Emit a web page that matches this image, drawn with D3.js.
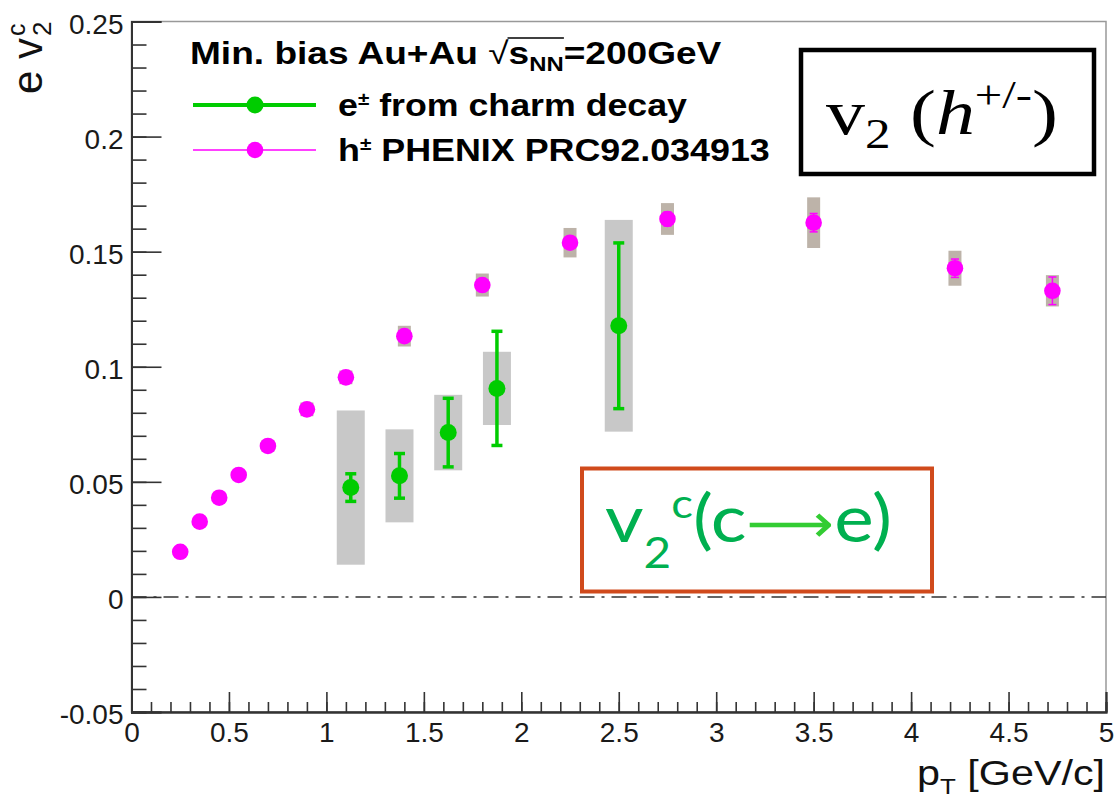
<!DOCTYPE html>
<html>
<head>
<meta charset="utf-8">
<script src="https://cdn.jsdelivr.net/npm/d3@7"></script>
<style>
  body { margin: 0; background: #fff; }
  svg { display: block; }
</style>
</head>
<body>
<svg id="chart" width="1114" height="804"></svg>
<script>
// Charged hadron v2 (PHENIX PRC92.034913)
const hadronPt   = [0.25, 0.35, 0.45, 0.55, 0.7, 0.9, 1.1, 1.4, 1.8, 2.25, 2.75, 3.5, 4.225, 4.725];
const hadronV2   = [0.0196, 0.0327, 0.0431, 0.053, 0.0656, 0.0815, 0.0954, 0.1133, 0.1355, 0.1539, 0.1642, 0.1626, 0.1428, 0.1330];
const hadronStat = [0.0008, 0.0008, 0.0008, 0.0008, 0.001, 0.001, 0.0012, 0.0015, 0.002, 0.0025, 0.003, 0.004, 0.004, 0.006];
const hadronSys  = [0.002, 0.002, 0.002, 0.002, 0.0025, 0.003, 0.003, 0.0045, 0.005, 0.0064, 0.0069, 0.011, 0.0076, 0.0068];

// Electrons from charm decay
const charmPt   = [1.125, 1.375, 1.625, 1.875, 2.5];
const charmV2   = [0.0475, 0.0526, 0.0714, 0.0906, 0.1178];
const charmStat = [0.006, 0.0097, 0.0149, 0.0248, 0.036];
const charmSys  = [0.0335, 0.0202, 0.0164, 0.0159, 0.046];

// Axis ticks
const yMajorTicks = [-0.05, 0, 0.05, 0.1, 0.15, 0.2, 0.25];
const xMajorTicks = [0, 0.5, 1, 1.5, 2, 2.5, 3, 3.5, 4, 4.5, 5];
const yTickLabels = ["-0.05", "0", "0.05", "0.1", "0.15", "0.2", "0.25"];
const xTickLabels = ["0", "0.5", "1", "1.5", "2", "2.5", "3", "3.5", "4", "4.5", "5"];

const GREEN = "#00cc00", MAGENTA = "#ff00ff";
const SANS = "'Liberation Sans', Arial, Helvetica, sans-serif";

const svg = d3.select("#chart");
const x = d3.scaleLinear().domain([0, 5]).range([131.5, 1106]);
const y = d3.scaleLinear().domain([-0.05, 0.25]).range([712, 21.5]);

// Text helper: builds a text at (px,py) and optionally stretches it horizontally to a given width
function label(parent, px, py, anchor, width, build) {
  const g = parent.append("g").attr("transform", `translate(${px},${py})`);
  const t = g.append("text").attr("text-anchor", anchor).attr("font-family", SANS);
  build(t, g);
  if (width) {
    const w = t.node().getBBox().width;
    g.attr("transform", `translate(${px},${py}) scale(${width / w},1)`);
  }
  return { g, t };
}

// Frame
svg.append("rect")
  .attr("x", x(0)).attr("y", y(0.25))
  .attr("width", x(5) - x(0)).attr("height", y(-0.05) - y(0.25))
  .attr("fill", "none").attr("stroke", "#999").attr("stroke-width", 1.5);

// Minor ticks
const yMinor = d3.range(-0.05, 0.2501, 0.01).map(v => +v.toFixed(2));
const xMinor = d3.range(0, 5.001, 0.1).map(v => +v.toFixed(1));

const yAxisMinor = svg.append("g").attr("transform", `translate(${x(0)},0)`)
  .call(d3.axisLeft(y).tickValues(yMinor).tickSize(-15).tickFormat(""));
const xAxisMinor = svg.append("g").attr("transform", `translate(0,${y(-0.05)})`)
  .call(d3.axisBottom(x).tickValues(xMinor).tickSize(-10).tickFormat(""));

// Major ticks with labels
const yAxis = svg.append("g").attr("transform", `translate(${x(0)},0)`)
  .call(d3.axisLeft(y).tickValues(yMajorTicks).tickSize(-30).tickPadding(8)
    .tickFormat((d, i) => yTickLabels[i]));
const xAxis = svg.append("g").attr("transform", `translate(0,${y(-0.05)})`)
  .call(d3.axisBottom(x).tickValues(xMajorTicks).tickSize(-20).tickPadding(10)
    .tickFormat((d, i) => xTickLabels[i]));

[yAxisMinor, xAxisMinor, yAxis, xAxis].forEach(a => {
  a.select(".domain").attr("stroke", "#333").attr("stroke-width", 2);
  a.selectAll(".tick line").attr("stroke", "#333").attr("stroke-width", 1.6);
  a.selectAll("text").attr("font-family", SANS).attr("font-size", 28).attr("fill", "#1a1a1a");
});
yAxis.selectAll(".tick text").attr("transform", "translate(0,3)");

// Zero line
svg.append("line")
  .attr("x1", x(0)).attr("x2", x(5)).attr("y1", y(0)).attr("y2", y(0))
  .attr("stroke", "#333").attr("stroke-width", 1.5)
  .attr("stroke-dasharray", "15,7,3,7");

// Axis titles
label(svg, 1105, 785, "end", 188, t => {
  t.attr("font-size", 35).attr("fill", "#111");
  t.append("tspan").text("p");
  t.append("tspan").attr("font-size", 22).attr("dy", 9).text("T");
  t.append("tspan").attr("dy", -9).text(" [GeV/c]");
});

const yt = svg.append("g").attr("transform", "translate(42,94) rotate(-90)")
  .attr("font-family", SANS).attr("fill", "#111");
yt.append("text").attr("x", 0).attr("y", 0).attr("font-size", 42).text("e v");
yt.append("text").attr("x", 58).attr("y", 9).attr("font-size", 26).text("2");
yt.append("text").attr("x", 58).attr("y", -17).attr("font-size", 25).text("c");

// Systematic boxes
const plot = svg.append("g");
plot.selectAll("rect.hsys").data(hadronPt).join("rect")
  .attr("class", "hsys")
  .attr("x", d => x(d) - 6.5).attr("width", 13)
  .attr("y", (d, i) => y(hadronV2[i] + hadronSys[i]))
  .attr("height", (d, i) => y(hadronV2[i] - hadronSys[i]) - y(hadronV2[i] + hadronSys[i]))
  .attr("fill", "#bdb3a9");

plot.selectAll("rect.csys").data(charmPt).join("rect")
  .attr("class", "csys")
  .attr("x", d => x(d) - 14).attr("width", 28)
  .attr("y", (d, i) => y(charmV2[i] + charmSys[i]))
  .attr("height", (d, i) => y(charmV2[i] - charmSys[i]) - y(charmV2[i] + charmSys[i]))
  .attr("fill", "#c8c8c8");

// Statistical error bars
function errorBars(pts, vals, errs, color, lw, capW) {
  const g = plot.append("g").attr("stroke", color).attr("stroke-width", lw);
  pts.forEach((p, i) => {
    const cx = x(p), y1 = y(vals[i] + errs[i]), y2 = y(vals[i] - errs[i]);
    g.append("line").attr("x1", cx).attr("x2", cx).attr("y1", y1).attr("y2", y2);
    g.append("line").attr("x1", cx - capW / 2).attr("x2", cx + capW / 2).attr("y1", y1).attr("y2", y1);
    g.append("line").attr("x1", cx - capW / 2).attr("x2", cx + capW / 2).attr("y1", y2).attr("y2", y2);
  });
}
errorBars(hadronPt, hadronV2, hadronStat, MAGENTA, 1.5, 8);
errorBars(charmPt, charmV2, charmStat, GREEN, 3.5, 11);

// Markers
plot.selectAll("circle.h").data(hadronPt).join("circle")
  .attr("class", "h")
  .attr("cx", d => x(d)).attr("cy", (d, i) => y(hadronV2[i]))
  .attr("r", 8.3).attr("fill", MAGENTA);
plot.selectAll("circle.c").data(charmPt).join("circle")
  .attr("class", "c")
  .attr("cx", d => x(d)).attr("cy", (d, i) => y(charmV2[i]))
  .attr("r", 8.5).attr("fill", GREEN);

// Legend
const legend = svg.append("g");
label(legend, 190, 64, "start", 532, (t, g) => {
  t.attr("font-size", 31).attr("font-weight", "bold").attr("fill", "#000");
  t.append("tspan").text("Min. bias Au+Au ");
  t.append("tspan").attr("font-weight", "normal").text("\u221A");
  t.append("tspan").text("s");
  t.append("tspan").attr("font-size", 20).attr("dy", 7).text("NN");
  t.append("tspan").attr("dy", -7).text("=200GeV");
  const node = t.node();
  const sq = node.getExtentOfChar(16);
  const b = node.getExtentOfChar(19);
  g.append("line")
    .attr("x1", sq.x + sq.width - 1).attr("x2", b.x + b.width)
    .attr("y1", sq.y + 2).attr("y2", sq.y + 2)
    .attr("stroke", "#000").attr("stroke-width", 1.5);
});

legend.append("line").attr("x1", 193).attr("x2", 316).attr("y1", 105).attr("y2", 105)
  .attr("stroke", GREEN).attr("stroke-width", 4);
legend.append("circle").attr("cx", 255).attr("cy", 105).attr("r", 8.5).attr("fill", GREEN);
label(legend, 338, 116, "start", 350, t => {
  t.attr("font-size", 31).attr("font-weight", "bold").attr("fill", "#000");
  t.append("tspan").text("e");
  t.append("tspan").attr("font-size", 18).attr("dy", -11).text("\u00B1");
  t.append("tspan").attr("dy", 11).text(" from charm decay");
});

legend.append("line").attr("x1", 193).attr("x2", 316).attr("y1", 150).attr("y2", 150)
  .attr("stroke", MAGENTA).attr("stroke-width", 1.3);
legend.append("circle").attr("cx", 255).attr("cy", 150).attr("r", 8.3).attr("fill", MAGENTA);
label(legend, 338, 161, "start", 432, t => {
  t.attr("font-size", 31).attr("font-weight", "bold").attr("fill", "#000");
  t.append("tspan").text("h");
  t.append("tspan").attr("font-size", 18).attr("dy", -11).text("\u00B1");
  t.append("tspan").attr("dy", 11).text(" PHENIX PRC92.034913");
});

// Annotation: charged hadron v2
svg.append("rect").attr("x", 801).attr("y", 50).attr("width", 293).attr("height", 124)
  .attr("fill", "#fff").attr("stroke", "#000").attr("stroke-width", 4.5);
label(svg, 826, 134, "start", 232, t => {
  t.attr("font-family", "'Liberation Serif', 'Times New Roman', serif").attr("font-size", 64).attr("fill", "#000");
  t.append("tspan").text("v");
  t.append("tspan").attr("font-size", 42).attr("dy", 14).text("2");
  t.append("tspan").attr("dy", -14).text(" (");
  t.append("tspan").attr("font-style", "italic").text("h");
  t.append("tspan").attr("font-size", 40).attr("dy", -26).text("+/-");
  t.append("tspan").attr("dy", 26).text(")");
});

// Annotation: charm electron v2
svg.append("rect").attr("x", 582).attr("y", 468.5).attr("width", 350).attr("height", 123)
  .attr("fill", "none").attr("stroke", "#d04a1c").attr("stroke-width", 4);
label(svg, 605, 542, "start", 287, t => {
  t.attr("font-family", "Lato, 'Open Sans', sans-serif").attr("font-size", 66).attr("fill", "#00b050");
  t.append("tspan").text("v");
  t.append("tspan").attr("font-size", 42).attr("dy", 26).text("2");
  t.append("tspan").attr("font-size", 40).attr("dy", -50).text("c");
  t.append("tspan").attr("dy", 24).text("(c");
  t.append("tspan").attr("fill", "#33cc33").attr("font-family", "'DejaVu Sans', sans-serif").attr("font-size", 54).text("\u27F6");
  t.append("tspan").text("e)");
});
</script>
</body>
</html>
